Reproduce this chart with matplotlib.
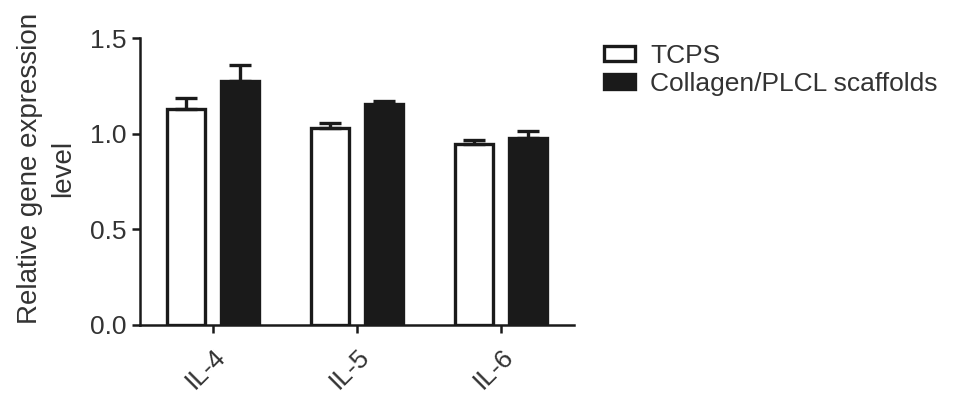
import matplotlib
matplotlib.use("Agg")
import matplotlib.pyplot as plt
import numpy as np
from matplotlib.patches import Patch

plt.rcParams["font.family"] = ["Liberation Sans", "DejaVu Sans"]

# ---- data ----
genes = ["IL-4", "IL-5", "IL-6"]
tcps = [1.13, 1.03, 0.948]
tcps_err = [0.055, 0.025, 0.02]
scaffold = [1.278, 1.153, 0.979]
scaffold_err = [0.083, 0.02, 0.035]
series_names = ["TCPS", "Collagen/PLCL scaffolds"]

fig = plt.figure(figsize=(9.69, 4.01), dpi=100)
ax = fig.add_axes([0.1445, 0.19, 0.448, 0.715])

x = np.arange(len(genes))
w = 0.264
off = 0.188
lw = 2.4
fs = 19

ax.bar(x - off, tcps, w, color="white", edgecolor="#1a1a1a", linewidth=lw,
       yerr=[[0] * 3, tcps_err], error_kw=dict(ecolor="#1a1a1a", elinewidth=lw,
                                              capsize=8, capthick=lw), zorder=3)
ax.bar(x + off, scaffold, w, color="#1a1a1a", edgecolor="#1a1a1a", linewidth=lw,
       yerr=[[0] * 3, scaffold_err], error_kw=dict(ecolor="#1a1a1a", elinewidth=lw,
                                                  capsize=8, capthick=lw), zorder=3)

ax.set_xlim(-0.505, 2.505)
ax.set_ylim(0, 1.5)
ax.set_yticks([0.0, 0.5, 1.0, 1.5])
ax.set_yticklabels(["0.0", "0.5", "1.0", "1.5"])
ax.set_xticks(x)
ax.set_xticklabels(genes, rotation=45, ha="right", rotation_mode="anchor")

for s in ["top", "right"]:
    ax.spines[s].set_visible(False)
for s in ["left", "bottom"]:
    ax.spines[s].set_linewidth(1.8)
    ax.spines[s].set_color("#1a1a1a")
ax.tick_params(axis="both", colors="#1a1a1a", labelcolor="#333333",
               labelsize=fs, width=1.8, length=6)
ax.tick_params(axis="x", pad=8)
ax.tick_params(axis="y", pad=4)

ax.set_ylabel("Relative gene expression\nlevel", fontsize=20, color="#333333",
              linespacing=1.35)
ax.yaxis.set_label_coords(-0.148, 0.547)

handles = [Patch(facecolor="white", edgecolor="#1a1a1a", linewidth=2.4),
           Patch(facecolor="#1a1a1a", edgecolor="#1a1a1a", linewidth=2.4)]
fig.legend(handles, series_names, loc="upper left", bbox_to_anchor=(0.612, 0.917),
           frameon=False, fontsize=fs, handlelength=1.2, handleheight=0.5,
           handletextpad=0.57, labelspacing=0.15, borderaxespad=0,
           labelcolor="#333333")

fig.savefig("out.png", dpi=100)
